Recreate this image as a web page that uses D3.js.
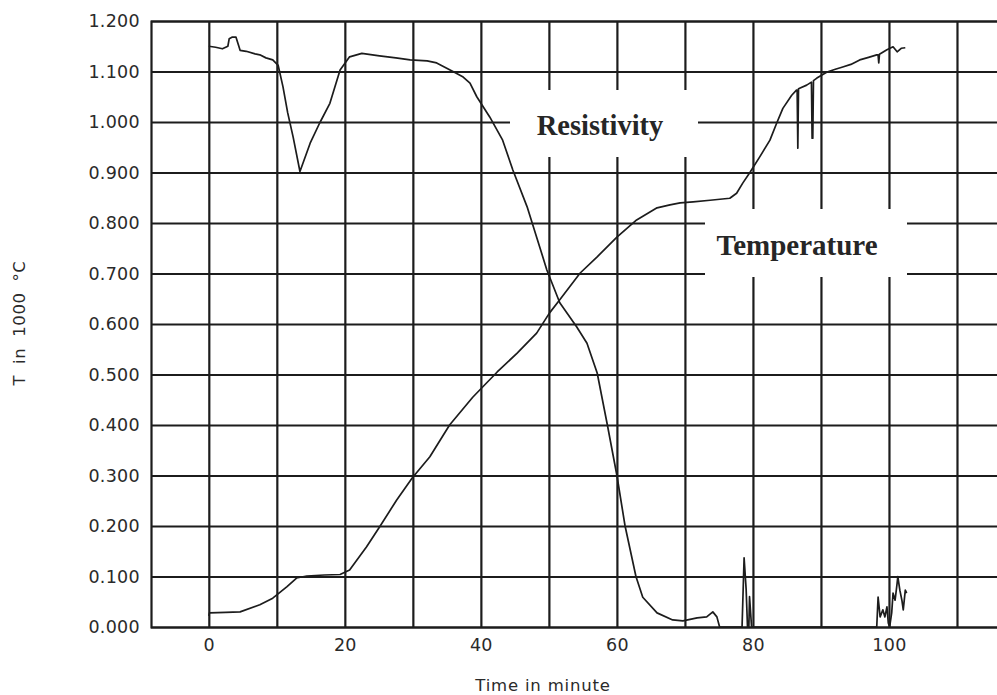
<!DOCTYPE html>
<html>
<head>
<meta charset="utf-8">
<script src="https://cdn.jsdelivr.net/npm/d3@7/dist/d3.min.js"></script>
<style>
  html, body { margin: 0; padding: 0; background: #fff; overflow: hidden; }
  svg { display: block; }
</style>
</head>
<body>
<svg id="chart" width="997" height="695"></svg>
<script>
// ---- data ----
const yTicks = [0, 0.1, 0.2, 0.3, 0.4, 0.5, 0.6, 0.7, 0.8, 0.9, 1.0, 1.1, 1.2];
const xLabelTicks = [0, 20, 40, 60, 80, 100];
const xGridTicks = [0, 10, 20, 30, 40, 50, 60, 70, 80, 90, 100, 110];
const xTitle = "Time in minute";
const yTitle = "T in 1000 °C";
const seriesNames = ["Resistivity", "Temperature"];

const resTime = [0, 1, 2, 2.8, 3.0, 3.4, 4.0, 4.3, 4.6, 5.5, 6.8, 7.5, 8.4, 9.4, 10.2, 10.9, 11.6, 12.4, 13.4, 14.9, 16.3, 17.8, 19.3, 20.7, 22.5, 25.1, 27.5, 29.6, 32.1, 33.5, 35.9, 37.4, 38.4, 39.4, 41.3, 43.2, 44.7, 46.8, 48.2, 49.7, 51.6, 54.1, 55.6, 57.1, 58.6, 60.0, 61.2, 62.8, 63.8, 65.9, 68.2, 69.7, 71.8, 73.2, 74.1, 74.7, 75.1,
  78.4, 78.7, 79.0, 79.2, 79.4, 79.5, 79.8,
  98.2, 98.4, 98.7, 99.1, 99.4, 99.7, 99.9, 100.1, 100.4, 100.6, 100.9, 101.2, 101.3, 101.6, 101.9, 102.1, 102.4, 102.6];
const resVal = [1.150, 1.148, 1.145, 1.150, 1.165, 1.168, 1.168, 1.155, 1.142, 1.140, 1.135, 1.133, 1.127, 1.123, 1.112, 1.070, 1.018, 0.970, 0.902, 0.958, 0.998, 1.037, 1.103, 1.129, 1.136, 1.131, 1.127, 1.123, 1.121, 1.117, 1.100, 1.089, 1.077, 1.050, 1.010, 0.964, 0.905, 0.832, 0.772, 0.707, 0.642, 0.594, 0.562, 0.503, 0.400, 0.300, 0.200, 0.100, 0.059, 0.028, 0.014, 0.012, 0.018, 0.020, 0.030, 0.020, 0.000,
  0.000, 0.137, 0.075, 0.000, 0.000, 0.060, 0.000,
  0.000, 0.059, 0.020, 0.034, 0.020, 0.040, 0.008, 0.000, 0.028, 0.067, 0.053, 0.087, 0.100, 0.073, 0.053, 0.034, 0.073, 0.067];

const tempTime = [0, 0.1, 2.5, 4.6, 7.5, 9.4, 11.5, 12.9, 14.4, 17.0, 19.3, 20.7, 23.2, 25.1, 27.6, 29.9, 32.5, 35.4, 38.8, 42.4, 45.3, 48.2, 50.1, 51.6, 54.6, 57.1, 60.0, 62.9, 65.9, 67.8, 69.3, 71.2, 73.7, 76.6, 77.6, 78.5, 79.6, 81.0, 82.5, 83.5, 84.4, 85.7, 86.4, 86.5, 86.6, 86.7, 87.9, 88.6, 88.7, 88.8, 88.9, 89.4, 90.9, 92.0, 93.2, 94.4, 95.7, 97.0, 98.2, 98.4, 98.5, 98.6, 99.7, 100.6, 101.2, 101.8, 102.4];
const tempVal = [0.022, 0.028, 0.029, 0.030, 0.044, 0.057, 0.080, 0.097, 0.101, 0.103, 0.104, 0.113, 0.159, 0.198, 0.251, 0.295, 0.337, 0.400, 0.455, 0.505, 0.542, 0.582, 0.622, 0.648, 0.701, 0.733, 0.772, 0.806, 0.830, 0.836, 0.840, 0.842, 0.845, 0.849, 0.859, 0.879, 0.901, 0.931, 0.964, 0.998, 1.027, 1.053, 1.063, 1.063, 0.948, 1.066, 1.073, 1.079, 0.968, 0.968, 1.082, 1.087, 1.099, 1.104, 1.109, 1.114, 1.123, 1.128, 1.133, 1.133, 1.117, 1.134, 1.143, 1.149, 1.139, 1.146, 1.147];

// ---- layout ----
const svg = d3.select("#chart");
const mLeft = 151, mTop = 21, mBottom = 627, mRight = 1025;
const x = d3.scaleLinear().domain([-8.5, 120]).range([mLeft, mRight]);
const y = d3.scaleLinear().domain([0, 1.2]).range([mBottom, mTop]);
const ink = "#1c1c1c";
const sans = "'DejaVu Sans', sans-serif";

// horizontal grid + left border
const gy = svg.append("g").attr("transform", `translate(${mLeft},0)`)
  .call(d3.axisLeft(y).tickValues(yTicks).tickSize(-(mRight - mLeft)).tickFormat(""));
gy.select(".domain").attr("stroke", ink).attr("stroke-width", 2.2);
gy.selectAll(".tick line").attr("stroke", ink).attr("stroke-width", 2.2);

// vertical grid
const gx = svg.append("g").attr("transform", `translate(0,${mBottom})`)
  .call(d3.axisBottom(x).tickValues(xGridTicks).tickSize(-(mBottom - mTop)).tickFormat(""));
gx.select(".domain").remove();
gx.selectAll(".tick line").attr("stroke", ink).attr("stroke-width", 2.2);

// white label boxes interrupting the grid
const boxes = [
  {name: seriesNames[0], x0: 510, x1: 698, y0: 90, y1: 157, tx: 600, ty: 135, size: 28.5},
  {name: seriesNames[1], x0: 705, x1: 907, y0: 209, y1: 277, tx: 797, ty: 255, size: 29}
];
boxes.forEach(b => {
  svg.append("rect").attr("x", b.x0).attr("y", b.y0)
    .attr("width", b.x1 - b.x0).attr("height", b.y1 - b.y0).attr("fill", "#fff");
  svg.append("text").attr("x", b.tx).attr("y", b.ty)
    .attr("text-anchor", "middle")
    .attr("font-family", "'Liberation Serif', 'Times New Roman', serif")
    .attr("font-weight", "bold").attr("font-size", b.size)
    .attr("fill", "#262626").text(b.name);
});

// tick labels
const ay = svg.append("g").attr("transform", `translate(${mLeft},0)`)
  .call(d3.axisLeft(y).tickValues(yTicks).tickSize(0).tickPadding(11).tickFormat(d3.format(".3f")));
ay.select(".domain").remove();
ay.selectAll("text").attr("font-family", sans).attr("font-size", 17.5)
  .attr("letter-spacing", "0.3px").attr("fill", "#2a2a2a");

const ax = svg.append("g").attr("transform", `translate(0,${mBottom})`)
  .call(d3.axisBottom(x).tickValues(xLabelTicks).tickSize(0).tickPadding(12).tickFormat(d3.format("d")));
ax.select(".domain").remove();
ax.selectAll("text").attr("font-family", sans).attr("font-size", 17.5)
  .attr("letter-spacing", "0.3px").attr("fill", "#2a2a2a");

// axis titles
svg.append("text").attr("x", 543).attr("y", 691).attr("text-anchor", "middle")
  .attr("font-family", sans).attr("font-size", 16.5).attr("letter-spacing", "0.8px")
  .attr("fill", "#2a2a2a").text(xTitle);
svg.append("text").attr("transform", "translate(25,323) rotate(-90)")
  .attr("text-anchor", "middle")
  .attr("font-family", sans).attr("font-size", 16.5).attr("letter-spacing", "0.6px")
  .attr("word-spacing", "5px")
  .attr("fill", "#2a2a2a").text(yTitle);

// curves
const line = d3.line().x(d => x(d[0])).y(d => y(d[1]));
const resData = resTime.map((t, i) => [t, resVal[i]]);
const tempData = tempTime.map((t, i) => [t, tempVal[i]]);
svg.append("path").datum(resData).attr("d", line)
  .attr("fill", "none").attr("stroke", ink).attr("stroke-width", 1.7).attr("stroke-linejoin", "round");
svg.append("path").datum(tempData).attr("d", line)
  .attr("fill", "none").attr("stroke", ink).attr("stroke-width", 1.7).attr("stroke-linejoin", "round");
</script>
</body>
</html>
